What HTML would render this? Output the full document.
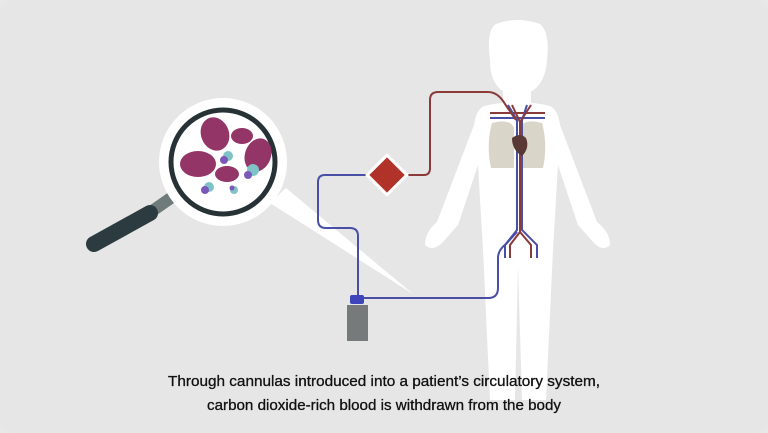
<!DOCTYPE html>
<html><head><meta charset="utf-8"><style>
html,body{margin:0;padding:0;background:#e8e8e8}
svg{display:block}
</style></head><body>
<svg width="768" height="433" viewBox="0 0 768 433" xmlns="http://www.w3.org/2000/svg">
<rect x="0" y="0" width="768" height="433" rx="14" fill="#e6e6e6"/>
<polygon points="270,203 286,188 413,294" fill="#ffffff"/>
<g fill="#ffffff">
<path d="M490,60 Q486,30 496,24 Q517,16 540,24 Q550,32 547,60 Q545,85 530,92 L505,92 Q490,85 490,60 Z"/>
<rect x="503" y="80" width="28" height="30"/>
<path d="M484,106 Q517,98 550,106 Q558,110 560,125 L597,222 Q610,232 610,245 Q603,252 594,243 L578,225 L558,165 L553,250 L546,400 L522,400 L518,265 L515,400 L490,400 L483,250 L478,165 L458,225 L442,243 Q432,252 425,245 Q425,232 437,222 L474,125 Q476,110 484,106 Z"/>
</g>
<path d="M492,123 Q510,118 514,128 L514,168 L491,168 Q486,145 492,123 Z" fill="#d9d5c9"/>
<path d="M542,123 Q524,118 520,128 L520,168 L543,168 Q548,145 542,123 Z" fill="#d9d5c9"/>
<g fill="none" stroke-width="2">
<path d="M490,113 L545,113" stroke="#8b3a3a"/>
<path d="M490,118 L545,118" stroke="#4a4fa6"/>
<path d="M508,105 L517,120 L517,230 L505,245 L505,258" stroke="#4a4fa6"/>
<path d="M527,105 L522,120 L522,230 L537,245 L537,258" stroke="#4a4fa6"/>
<path d="M512,105 L520,122 L520,232 L510,245 L510,258" stroke="#8b3a3a"/>
<path d="M531,105 L520,122 M520,232 L531,245 L531,258" stroke="#8b3a3a"/>
</g>
<path d="M512,138 Q520,132 526,138 Q530,148 522,156 Q512,150 512,138 Z" fill="#5a3833"/>
<path d="M405,175 L424,175 Q430,175 430,168 L430,100 Q430,92 438,92 L488,92 Q498,92 505,104 L516,120" fill="none" stroke="#8b3a3a" stroke-width="2"/>
<path d="M370,175 L325,175 Q318,175 318,182 L318,220 Q318,228 326,228 L350,228 Q358,228 358,236 L358,298 L488,298 Q498,298 498,288 L498,258 Q498,250 506,244 L517,232" fill="none" stroke="#4a4fa6" stroke-width="2"/>
<rect x="373" y="161" width="28" height="28" transform="rotate(45 387 175)" fill="#b03228" stroke="#ffffff" stroke-width="3"/>
<rect x="350" y="295" width="14" height="9" rx="2" fill="#3d45b8"/>
<rect x="347" y="305" width="21" height="36" fill="#767a7a"/>
<line x1="178" y1="193" x2="145" y2="216" stroke="#6f7a7a" stroke-width="12"/>
<line x1="150" y1="213" x2="94" y2="244" stroke="#2c3b40" stroke-width="16" stroke-linecap="round"/>
<circle cx="223" cy="162" r="64" fill="#ffffff"/>
<circle cx="223" cy="162" r="52" fill="#ffffff" stroke="#263236" stroke-width="5"/>
<g fill="#933566">
<ellipse cx="215" cy="134" rx="14" ry="17" transform="rotate(-20 215 134)"/>
<ellipse cx="242" cy="136" rx="11" ry="8"/>
<ellipse cx="258" cy="155" rx="13" ry="17" transform="rotate(20 258 155)"/>
<ellipse cx="198" cy="164" rx="18" ry="13"/>
<ellipse cx="227" cy="174" rx="12" ry="8"/>
</g>
<g>
<circle cx="228" cy="156" r="5" fill="#7fc3c9"/><circle cx="224" cy="160" r="4" fill="#7b58b8"/>
<circle cx="253" cy="170" r="6" fill="#7fc3c9"/><circle cx="248" cy="175" r="4" fill="#7b58b8"/>
<circle cx="209" cy="187" r="5" fill="#7fc3c9"/><circle cx="205" cy="190" r="4" fill="#7b58b8"/>
<circle cx="234" cy="190" r="4" fill="#7fc3c9"/><circle cx="232" cy="188" r="2.5" fill="#7b58b8"/>
</g>
<g font-family="Liberation Sans, Arial, sans-serif" font-size="14.5" fill="#111" stroke="#111" stroke-width="0.3" text-anchor="middle">
<text x="384" y="386" textLength="432" lengthAdjust="spacingAndGlyphs">Through cannulas introduced into a patient’s circulatory system,</text>
<text x="384" y="410" textLength="354" lengthAdjust="spacingAndGlyphs">carbon dioxide-rich blood is withdrawn from the body</text>
</g>
</svg>
</body></html>
